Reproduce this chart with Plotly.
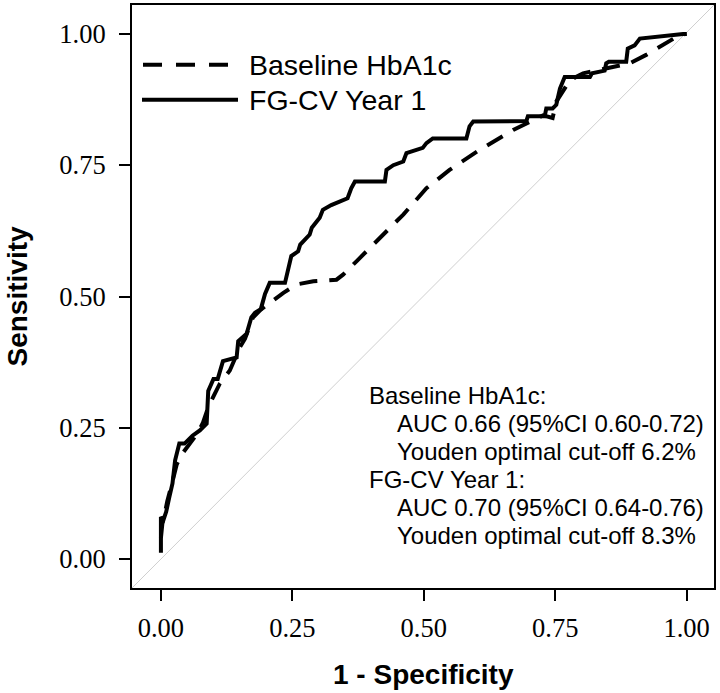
import plotly.graph_objects as go

# ---- data ----
fgcv_fpr = [0, 0, 0.005, 0.01, 0.016, 0.022, 0.027, 0.035, 0.045, 0.06, 0.074, 0.087, 0.09, 0.1,
            0.108, 0.118, 0.144, 0.147, 0.163, 0.172, 0.179, 0.19, 0.198, 0.207, 0.236, 0.242,
            0.248, 0.261, 0.265, 0.283, 0.287, 0.302, 0.308, 0.324, 0.347, 0.355, 0.362, 0.369,
            0.426, 0.429, 0.442, 0.461, 0.467, 0.498, 0.505, 0.517, 0.581, 0.587, 0.594, 0.695,
            0.698, 0.73, 0.733, 0.745, 0.752, 0.759, 0.768, 0.816, 0.82, 0.844, 0.847, 0.852,
            0.885, 0.888, 0.901, 0.911, 0.993, 1.0]
fgcv_tpr = [0.012, 0.08, 0.075, 0.09, 0.118, 0.144, 0.188, 0.22, 0.22, 0.235, 0.245, 0.258, 0.32,
            0.343, 0.343, 0.377, 0.384, 0.415, 0.429, 0.46, 0.469, 0.476, 0.505, 0.526, 0.526,
            0.555, 0.577, 0.586, 0.599, 0.618, 0.631, 0.65, 0.665, 0.674, 0.684, 0.687, 0.706,
            0.719, 0.719, 0.741, 0.75, 0.757, 0.773, 0.783, 0.792, 0.801, 0.801, 0.824, 0.833,
            0.834, 0.843, 0.843, 0.858, 0.858, 0.865, 0.896, 0.918, 0.918, 0.925, 0.93, 0.944,
            0.947, 0.947, 0.972, 0.978, 0.991, 1.0, 1.0]

hba1c_fpr = [0, 0.003, 0.006, 0.012, 0.02, 0.03, 0.04, 0.055, 0.07, 0.08, 0.09, 0.1, 0.112, 0.131,
             0.15, 0.16, 0.175, 0.19, 0.207, 0.233, 0.258, 0.29, 0.334, 0.347, 0.372, 0.41,
             0.461, 0.505, 0.549, 0.606, 0.67, 0.727, 0.745, 0.752, 0.778, 0.803, 0.828, 0.86,
             0.892, 0.923, 0.987, 1.0]
hba1c_tpr = [0.04, 0.07, 0.08, 0.11, 0.14, 0.18, 0.2, 0.22, 0.24, 0.26, 0.289, 0.31, 0.334, 0.359,
             0.403, 0.42, 0.46, 0.475, 0.488, 0.507, 0.523, 0.529, 0.532, 0.542, 0.567, 0.605,
             0.656, 0.706, 0.741, 0.779, 0.817, 0.845, 0.84, 0.871, 0.912, 0.925, 0.93, 0.937,
             0.944, 0.96, 0.998, 1.0]

tick_vals = [0, 0.25, 0.5, 0.75, 1.0]
tick_text = ["0.00", "0.25", "0.50", "0.75", "1.00"]

series_names = ["Baseline HbA1c", "FG-CV Year 1"]
stats_lines = [
    ("Baseline HbA1c:", 0),
    ("AUC 0.66 (95%CI 0.60-0.72)", 1),
    ("Youden optimal cut-off 6.2%", 1),
    ("FG-CV Year 1:", 0),
    ("AUC 0.70 (95%CI 0.64-0.76)", 1),
    ("Youden optimal cut-off 8.3%", 1),
]

SANS = "Liberation Sans, Arial, sans-serif"
SERIF = "Liberation Serif, Times New Roman, serif"

fig = go.Figure()
fig.add_trace(go.Scatter(x=hba1c_fpr, y=hba1c_tpr, mode="lines", name=series_names[0],
                         line=dict(color="black", width=4, dash="18px,12px"),
                         showlegend=False, hoverinfo="skip"))
fig.add_trace(go.Scatter(x=fgcv_fpr, y=fgcv_tpr, mode="lines", name=series_names[1],
                         line=dict(color="black", width=4),
                         showlegend=False, hoverinfo="skip"))

W, H = 720, 693
L, R, T, B = 132, 6, 3, 105
pw, ph = W - L - R, H - T - B


def px2paper_x(px):
    return (px - L) / pw


def px2paper_y(py):
    return (H - B - py) / ph


shapes = [
    # reference diagonal
    dict(type="line", xref="paper", yref="paper", x0=0, y0=0, x1=1, y1=1,
         line=dict(color="#cfcfcf", width=1), layer="below"),
    # legend samples
    dict(type="line", xref="paper", yref="paper",
         x0=px2paper_x(143), x1=px2paper_x(228), y0=px2paper_y(63), y1=px2paper_y(63),
         line=dict(color="black", width=4, dash="19px,14px")),
    dict(type="line", xref="paper", yref="paper",
         x0=px2paper_x(142), x1=px2paper_x(238), y0=px2paper_y(98), y1=px2paper_y(98),
         line=dict(color="black", width=4)),
]

annotations = []
for name, py in zip(series_names, [63, 98]):
    annotations.append(dict(text=name, xref="paper", yref="paper", x=px2paper_x(247),
                            y=px2paper_y(py), xanchor="left", yanchor="middle", showarrow=False,
                            font=dict(family=SANS, size=28.5, color="black")))

line_y = [395, 423, 451, 479, 507, 535]
for (txt, indent), py in zip(stats_lines, line_y):
    annotations.append(dict(text=txt, xref="paper", yref="paper",
                            x=px2paper_x(395 if indent else 367), y=px2paper_y(py),
                            xanchor="left", yanchor="middle", showarrow=False,
                            font=dict(family=SANS, size=24, color="black")))

# axis titles
annotations.append(dict(text="<b>1 - Specificity</b>", xref="paper", yref="paper", x=0.5,
                        y=px2paper_y(675), xanchor="center", yanchor="middle", showarrow=False,
                        font=dict(family=SANS, size=28, color="black")))
annotations.append(dict(text="<b>Sensitivity</b>", xref="paper", yref="paper",
                        x=px2paper_x(17), y=0.5, xanchor="center", yanchor="middle",
                        textangle=-90, showarrow=False,
                        font=dict(family=SANS, size=28, color="black")))

axis_common = dict(
    tickmode="array", tickvals=tick_vals, ticktext=tick_text,
    ticks="outside", ticklen=11, tickwidth=2, tickcolor="black",
    showline=True, linewidth=2, linecolor="black", mirror=True,
    showgrid=False, zeroline=False,
    tickfont=dict(family=SERIF, size=26.5, color="black"),
)

fig.update_layout(
    width=W, height=H,
    margin=dict(l=L, r=R, t=T, b=B),
    paper_bgcolor="white", plot_bgcolor="white",
    xaxis=dict(range=[-0.055, 1.052], ticklabelstandoff=4, **axis_common),
    yaxis=dict(range=[-0.055, 1.055], ticklabelstandoff=8, **axis_common),
    shapes=shapes, annotations=annotations, showlegend=False,
)

fig.write_html("out.html", config={"displayModeBar": False},
               post_script="document.body.style.margin='0px';")
